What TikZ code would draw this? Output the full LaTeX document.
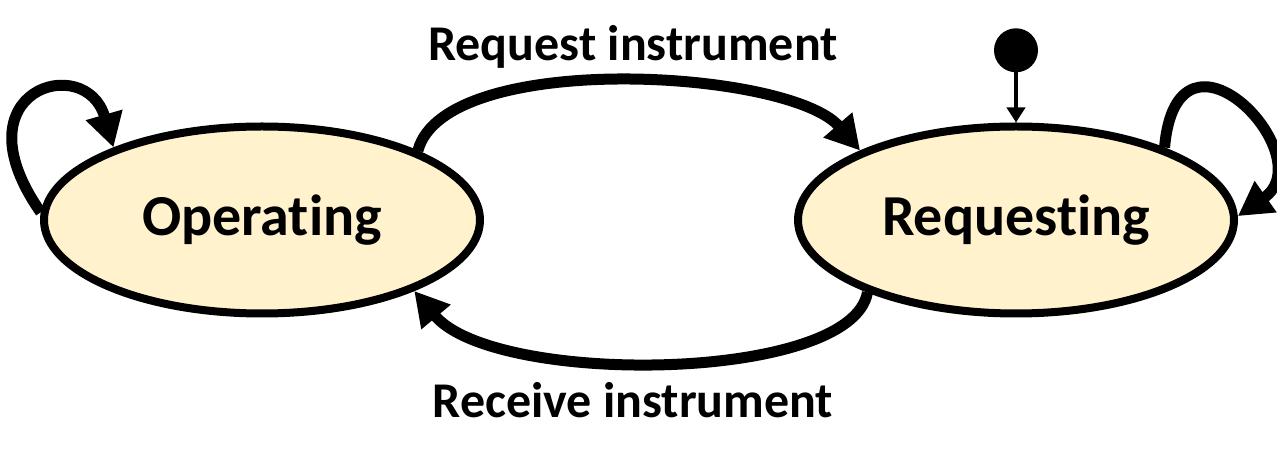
\documentclass[tikz,border=0pt]{standalone}
\usepackage{fontspec}
\setmainfont{Carlito}[Ligatures=NoCommon]
\usetikzlibrary{shapes.geometric, arrows.meta, positioning}
\definecolor{statefill}{HTML}{FFF2CC}
\tikzset{
state/.style = {ellipse, draw=black, line width=8pt, fill=statefill, minimum width=436pt, minimum height=187pt, inner sep=0pt, font=\fontsize{58}{70}\selectfont\bfseries},
edgetext/.style = {font=\fontsize{50}{60}\selectfont\bfseries},
startdot/.style = {circle, fill=black, minimum size=44pt, inner sep=0pt},
arrow/.style = {line width=11pt, -{Triangle[length=34pt,width=36pt]}},
thinarrow/.style = {line width=4pt, -{Triangle[length=15pt,width=18pt]}}
}

\begin{document}
\begin{tikzpicture}[x=1pt, y=1pt]
\useasboundingbox (0,0) rectangle (1277,460);

\node (op) [state] at (262,240) {Operating};
\node (req) [state, right=310pt of op] {Requesting};
\node (init) [startdot, above=50pt of req] {};

\draw [thinarrow] (init) -- (req);

\draw [arrow] (op.24) to[out=75,in=131,out distance=105pt,in distance=108pt] (req.156);
\node (reqtext) [edgetext] at (633,413) {Request instrument};

\draw [arrow] (req.206) to[out=-100,in=-50,out distance=92pt,in distance=125pt] (op.-25);
\node (rectext) [edgetext] at (633,60) {Receive instrument};

% self loops
\draw [arrow] (op.178) to[out=125,in=106,out distance=150pt,in distance=100pt] (op.154);
\draw [arrow] (req.26) to[out=85,in=35,out distance=145pt,in distance=105pt] (req.1);

\end{tikzpicture}
\end{document}
